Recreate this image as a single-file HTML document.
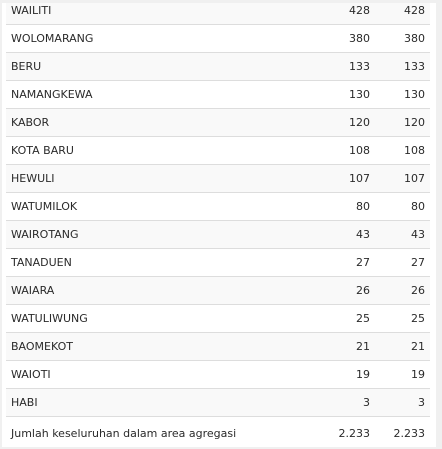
<!DOCTYPE html>
<html><head><meta charset="utf-8"><style>
html,body{margin:0;padding:0;width:442px;height:449px;background:#f0f0f0;overflow:hidden}
#panel{position:absolute;left:2px;top:3px;width:434px;height:444px;background:#fff;overflow:hidden}
table{position:absolute;left:4px;top:-6px;width:424px;border-collapse:collapse;font-family:"DejaVu Sans","Liberation Sans",sans-serif;font-size:11px;color:#2a2a2a}
td{height:27px;padding:0;border-bottom:1px solid #ddd}
tr:nth-child(odd){background:#f9f9f9}
td.n{padding-left:5px}
td.v{text-align:right;width:60px}
td.v2{text-align:right;width:55px;padding-right:5px}
tr.total td{border-bottom:none;height:32px;background:#fff}
</style></head><body>
<div id="panel">
<table>
<tr><td class="n">WAILITI</td><td class="v">428</td><td class="v2">428</td></tr>
<tr><td class="n">WOLOMARANG</td><td class="v">380</td><td class="v2">380</td></tr>
<tr><td class="n">BERU</td><td class="v">133</td><td class="v2">133</td></tr>
<tr><td class="n">NAMANGKEWA</td><td class="v">130</td><td class="v2">130</td></tr>
<tr><td class="n">KABOR</td><td class="v">120</td><td class="v2">120</td></tr>
<tr><td class="n">KOTA BARU</td><td class="v">108</td><td class="v2">108</td></tr>
<tr><td class="n">HEWULI</td><td class="v">107</td><td class="v2">107</td></tr>
<tr><td class="n">WATUMILOK</td><td class="v">80</td><td class="v2">80</td></tr>
<tr><td class="n">WAIROTANG</td><td class="v">43</td><td class="v2">43</td></tr>
<tr><td class="n">TANADUEN</td><td class="v">27</td><td class="v2">27</td></tr>
<tr><td class="n">WAIARA</td><td class="v">26</td><td class="v2">26</td></tr>
<tr><td class="n">WATULIWUNG</td><td class="v">25</td><td class="v2">25</td></tr>
<tr><td class="n">BAOMEKOT</td><td class="v">21</td><td class="v2">21</td></tr>
<tr><td class="n">WAIOTI</td><td class="v">19</td><td class="v2">19</td></tr>
<tr><td class="n">HABI</td><td class="v">3</td><td class="v2">3</td></tr>
<tr class="total"><td class="n">Jumlah keseluruhan dalam area agregasi</td><td class="v">2.233</td><td class="v2">2.233</td></tr>
</table>
</div>
</body></html>
